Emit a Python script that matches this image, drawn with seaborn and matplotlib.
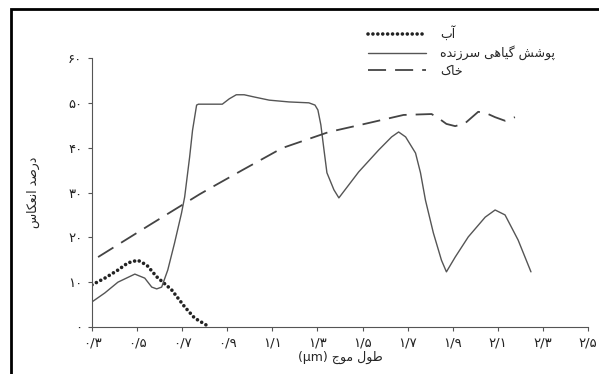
import matplotlib
matplotlib.use("Agg")
import matplotlib.pyplot as plt
from matplotlib.patches import Rectangle
import pandas as pd
import seaborn as sns

# wavelength (micrometre) and reflectance (percent)
water_x = [0.300, 0.357, 0.415, 0.459, 0.503, 0.543, 0.587, 0.653, 0.711, 0.755, 0.808]
water_y = [9.4, 10.9, 12.7, 14.3, 14.9, 13.8, 11.2, 8.3, 4.5, 2.0, 0.4]

veg_x = [0.300, 0.357, 0.415, 0.490, 0.534, 0.565, 0.587, 0.609, 0.636, 0.666,
         0.697, 0.711, 0.733, 0.746, 0.764, 0.772, 0.830, 0.878, 0.909, 0.940,
         0.975, 1.020, 1.086, 1.174, 1.262, 1.289, 1.302, 1.315, 1.329, 1.342,
         1.373, 1.395, 1.483, 1.572, 1.629, 1.660, 1.691, 1.735, 1.757, 1.779,
         1.814, 1.850, 1.872, 1.911, 1.969, 2.044, 2.088, 2.132, 2.190, 2.247]
veg_y = [5.6, 7.6, 10.0, 11.8, 10.9, 8.9, 8.5, 8.9, 12.7, 18.7,
         25.4, 29.0, 37.9, 43.9, 49.5, 49.7, 49.7, 49.7, 50.9, 51.8,
         51.8, 51.3, 50.6, 50.2, 50.0, 49.5, 48.4, 45.1, 39.5, 34.4,
         30.6, 28.8, 34.6, 39.5, 42.4, 43.5, 42.4, 38.8, 34.4, 28.3,
         21.0, 14.9, 12.3, 15.6, 20.1, 24.5, 26.1, 25.0, 19.4, 12.3]

soil_x = [0.327, 0.557, 0.777, 0.836, 0.967, 1.143, 1.351, 1.527, 1.682, 1.806,
          1.836, 1.872, 1.911, 1.956, 2.013, 2.048, 2.088, 2.132, 2.176]
soil_y = [15.6, 22.8, 29.6, 31.3, 35.0, 39.9, 43.5, 45.5, 47.3, 47.5,
          46.6, 45.3, 44.8, 45.5, 48.0, 47.7, 46.8, 46.0, 46.8]

labels = ["آب", "پوشش گیاهی سرزنده", "خاک"]
x_ticks = [0.3, 0.5, 0.7, 0.9, 1.1, 1.3, 1.5, 1.7, 1.9, 2.1, 2.3, 2.5]
x_tick_labels = ["۰/۳", "۰/۵", "۰/۷", "۰/۹", "۱/۱", "۱/۳", "۱/۵", "۱/۷", "۱/۹", "۲/۱", "۲/۳", "۲/۵"]
y_ticks = [0, 10, 20, 30, 40, 50, 60]
y_tick_labels = ["۰", "۱۰", "۲۰", "۳۰", "۴۰", "۵۰", "۶۰"]
x_label = "طول موج"
x_unit = "(µm)"
y_label = "درصد انعکاس"

# matplotlib has no arabic shaping, so pick presentation forms by hand
# (isolated, final, initial, medial)
FORMS = {
    'ا': ('\uFE8D', '\uFE8E'), 'آ': ('\uFE81', '\uFE82'),
    'د': ('\uFEA9', '\uFEAA'), 'ر': ('\uFEAD', '\uFEAE'),
    'ز': ('\uFEAF', '\uFEB0'), 'و': ('\uFEED', '\uFEEE'),
    'ب': ('\uFE8F', '\uFE90', '\uFE91', '\uFE92'),
    'پ': ('\uFB56', '\uFB57', '\uFB58', '\uFB59'),
    'ج': ('\uFE9D', '\uFE9E', '\uFE9F', '\uFEA0'),
    'خ': ('\uFEA5', '\uFEA6', '\uFEA7', '\uFEA8'),
    'س': ('\uFEB1', '\uFEB2', '\uFEB3', '\uFEB4'),
    'ش': ('\uFEB5', '\uFEB6', '\uFEB7', '\uFEB8'),
    'ص': ('\uFEB9', '\uFEBA', '\uFEBB', '\uFEBC'),
    'ط': ('\uFEC1', '\uFEC2', '\uFEC3', '\uFEC4'),
    'ع': ('\uFEC9', '\uFECA', '\uFECB', '\uFECC'),
    'ک': ('\uFB8E', '\uFB8F', '\uFB90', '\uFB91'),
    'گ': ('\uFB92', '\uFB93', '\uFB94', '\uFB95'),
    'ل': ('\uFEDD', '\uFEDE', '\uFEDF', '\uFEE0'),
    'م': ('\uFEE1', '\uFEE2', '\uFEE3', '\uFEE4'),
    'ن': ('\uFEE5', '\uFEE6', '\uFEE7', '\uFEE8'),
    'ه': ('\uFEE9', '\uFEEA', '\uFEEB', '\uFEEC'),
    'ی': ('\uFBFC', '\uFBFD', '\uFBFE', '\uFBFF'),
}


def fa(text):
  out = []
  for i, ch in enumerate(text):
    if ch not in FORMS:
      out.append(ch)
      continue
    prev = text[i - 1] if i > 0 else ''
    nxt = text[i + 1] if i + 1 < len(text) else ''
    join_prev = prev in FORMS and len(FORMS[prev]) == 4
    join_next = nxt in FORMS and len(FORMS[ch]) == 4
    f = FORMS[ch]
    if join_prev and join_next:
      out.append(f[3])
    elif join_prev:
      out.append(f[1])
    elif join_next:
      out.append(f[2])
    else:
      out.append(f[0])
  return ''.join(reversed(out))


sns.set_style("ticks")
plt.rcParams['font.family'] = ['DejaVu Sans']

fig = plt.figure(figsize=(5.99, 3.74), dpi=100)
ax = fig.add_axes([92 / 599, 47 / 374, 496 / 599, 269 / 374])

water = pd.DataFrame({'x': water_x, 'y': water_y})
veg = pd.DataFrame({'x': veg_x, 'y': veg_y})
soil = pd.DataFrame({'x': soil_x, 'y': soil_y})

sns.lineplot(data=water, x='x', y='y', ax=ax, color='#222222', lw=2.6,
             linestyle=(0, (0.01, 1.35)), dash_capstyle='round', label=fa(labels[0]))
sns.lineplot(data=veg, x='x', y='y', ax=ax, color='#555555', lw=1.0, label=fa(labels[1]))
sns.lineplot(data=soil, x='x', y='y', ax=ax, color='#444444', lw=1.3,
             linestyle=(0, (10, 5)), label=fa(labels[2]))

ax.set_xlim(0.3, 2.5)
ax.set_ylim(0, 60)
ax.set_xticks(x_ticks)
ax.set_xticklabels(x_tick_labels, fontsize=9.5)
ax.set_yticks(y_ticks)
ax.set_yticklabels(y_tick_labels, fontsize=9.5)
ax.tick_params(length=3, width=0.8, color='#555555', labelcolor='#222222', pad=4)
for side in ['top', 'right']:
  ax.spines[side].set_visible(False)
for side in ['left', 'bottom']:
  ax.spines[side].set_color('#555555')
  ax.spines[side].set_linewidth(0.8)

ax.set_xlabel(x_unit + " " + fa(x_label), fontsize=9, labelpad=1)
ax.set_ylabel(fa(y_label), fontsize=9, labelpad=20)

ax.legend(loc='upper left', bbox_to_anchor=(368 / 599, 1 - 26 / 374),
          bbox_transform=fig.transFigure, frameon=False, fontsize=9,
          handlelength=4.6, handletextpad=1.2, labelspacing=0.35,
          borderpad=0, borderaxespad=0)

# the black frame round the scanned figure, cut by the image edge
fig.patches.append(Rectangle((11 / 599, -0.1), 1.2, (374 - 9) / 374 + 0.1,
                             transform=fig.transFigure, fill=False,
                             edgecolor='black', lw=2.0, clip_on=False))

fig.savefig('out.png', dpi=100)
